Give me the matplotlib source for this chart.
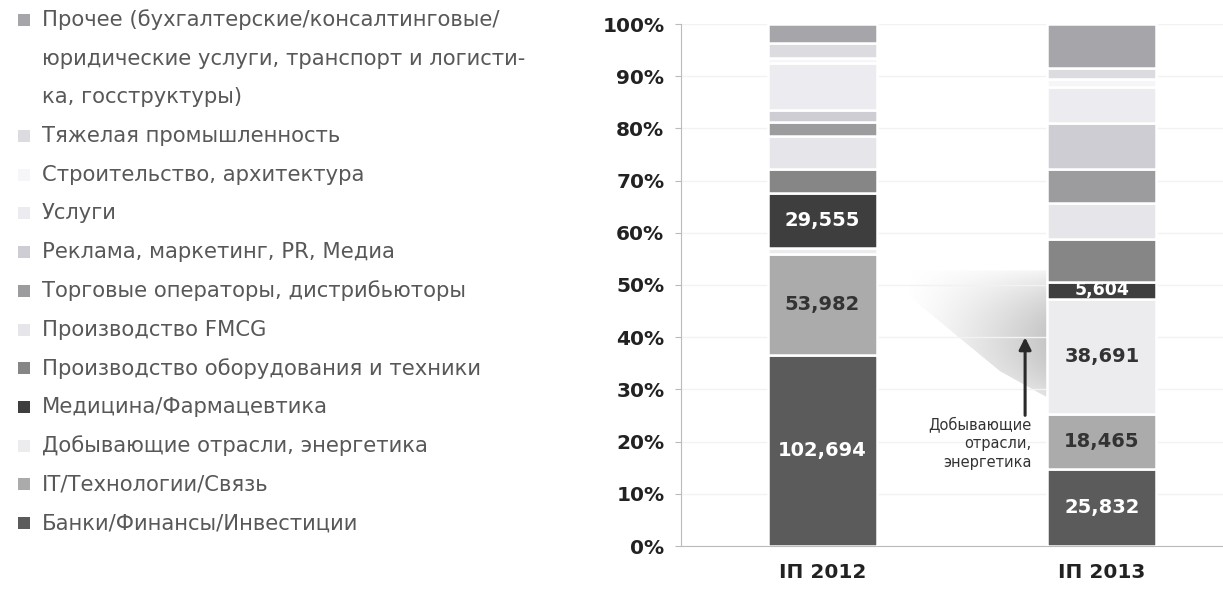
import numpy as np
import matplotlib.pyplot as plt
from matplotlib.patches import Rectangle, Polygon

plt.rcParams['font.family'] = ['DejaVu Sans']

# sectors, stacked from the bottom up
sectors = [
    'Банки/Финансы/Инвестиции',
    'IT/Технологии/Связь',
    'Добывающие отрасли, энергетика',
    'Медицина/Фармацевтика',
    'Производство оборудования и техники',
    'Производство FMCG',
    'Торговые операторы, дистрибьюторы',
    'Реклама, маркетинг, PR, Медиа',
    'Услуги',
    'Строительство, архитектура',
    'Тяжелая промышленность',
    'Прочее (бухгалтерские/консалтинговые/\nюридические услуги, транспорт и логисти-\nка, госструктуры)',
]
colors = ['#5b5b5b', '#ababab', '#ececee', '#3e3e3e', '#868686', '#e6e6ea',
          '#9c9c9e', '#cdcdd3', '#ececf0', '#f6f6f8', '#dcdce0', '#a6a6aa']

periods = ['IП 2012', 'IП 2013']
vals_2012 = [102694, 53982, 3400, 29555, 12900, 17400, 7800, 6400, 25200, 2800, 8100, 10100]
vals_2013 = [25832, 18465, 38691, 5604, 14400, 12100, 11400, 15400, 12300, 2600, 3700, 14700]

# which segments get a value label and in what colour
label_color = {0: 'white', 1: '#333333', 2: '#333333', 3: 'white'}
labelled = [[0, 1, 3], [0, 1, 2, 3]]

fig = plt.figure(figsize=(12.23, 5.92), dpi=100)
ax = fig.add_axes([681 / 1223, 46 / 592, 542 / 1223, 522 / 592])

data = np.array([vals_2012, vals_2013], dtype=float)
shares = data / data.sum(axis=1, keepdims=True) * 100
x = np.arange(len(periods))
bottom = np.zeros(len(periods))
for i, name in enumerate(sectors):
    ax.bar(x, shares[:, i], bottom=bottom, width=0.39, color=colors[i],
           edgecolor='white', linewidth=1.8, zorder=3)
    for j in range(len(periods)):
        if i in labelled[j]:
            ax.text(x[j], bottom[j] + shares[j, i] / 2, f'{int(data[j, i]):,}',
                    ha='center', va='center', fontsize=14 if i != 3 or j == 0 else 12.5,
                    fontweight='bold', color=label_color[i], zorder=5)
    bottom += shares[:, i]

# soft grey shadow left of the second bar
shade = Polygon([(0.295, 52.8), (0.803, 52.8), (0.803, 28.5), (0.635, 33.5), (0.295, 48.5)],
                closed=True, facecolor='none', edgecolor='none')
ax.add_patch(shade)
gx = np.linspace(0, 1, 300)
gy = np.linspace(0, 1, 160)[:, None]
alpha = (gx ** 1.2) * np.clip(np.sin(np.pi * (0.15 + 0.8 * gy)) ** 0.9, 0, 1) * 0.55
rgba = np.zeros((160, 300, 4))
rgba[..., :3] = 0.6
rgba[..., 3] = alpha
img = ax.imshow(rgba, extent=(0.295, 0.803, 28.5, 52.8), aspect='auto',
                origin='lower', zorder=1, interpolation='bilinear')
img.set_clip_path(shade)

# arrow and caption for the extraction sector
ax.annotate('', xy=(0.725, 40.5), xytext=(0.725, 24.5),
            arrowprops=dict(arrowstyle='-|>', color='#2a2a2a', lw=2.2,
                            mutation_scale=18), zorder=4)
ax.text(0.748, 24.8, 'Добывающие\nотрасли,\nэнергетика', ha='right', va='top',
        fontsize=10.5, color='#333333', linespacing=1.3, zorder=4)

ax.set_xlim(-0.506, 1.433)
ax.set_ylim(0, 100)
ax.set_yticks(np.arange(0, 101, 10))
ax.set_yticklabels([f'{t}%' for t in range(0, 101, 10)], fontsize=14.5,
                   fontweight='bold', color='#222222')
ax.set_xticks(x)
ax.set_xticklabels(periods, fontsize=14.5, fontweight='bold', color='#222222')
ax.tick_params(axis='x', length=0, pad=12)
ax.tick_params(axis='y', length=4, color='#bbbbbb', pad=8)
ax.yaxis.grid(True, color='#f2f2f2', lw=1, zorder=0)
for s in ['top', 'right']:
    ax.spines[s].set_visible(False)
ax.spines['left'].set_color('#bbbbbb')
ax.spines['bottom'].set_color('#bbbbbb')

# legend, top entry first
y = 1 - 20 / 592
step = 38.7 / 592
for name, c in zip(sectors[::-1], colors[::-1]):
    fig.patches.append(Rectangle((18 / 1223, y - 6 / 592), 12 / 1223, 12 / 592,
                                 transform=fig.transFigure, facecolor=c,
                                 edgecolor='none'))
    for k, line in enumerate(name.split('\n')):
        fig.text(42 / 1223, y - k * step, line, ha='left', va='center',
                 fontsize=15.2, color='#585858')
    y -= step * len(name.split('\n'))

fig.savefig('out.png', dpi=100, facecolor='white')
